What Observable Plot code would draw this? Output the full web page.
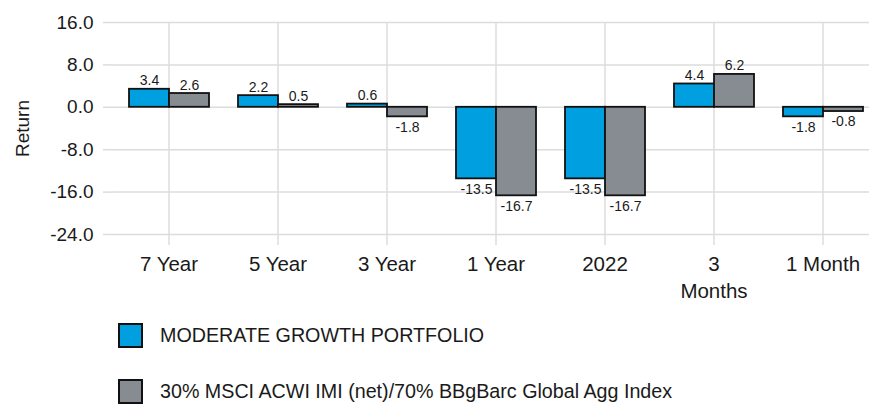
<!DOCTYPE html>
<html><head><meta charset="utf-8">
<script src="https://cdn.jsdelivr.net/npm/d3@7"></script>
<script src="https://cdn.jsdelivr.net/npm/@observablehq/plot@0.6"></script>
<style>
html,body{margin:0;background:#fff;overflow:hidden;font-family:"Liberation Sans",Arial,sans-serif;}
#legend{position:relative;height:96px;}
.item{position:absolute;left:118px;display:flex;align-items:center;font-size:19.7px;color:#1a1a1a;height:25px;}
.sw{width:21px;height:21px;border:2px solid #111;margin-right:17px;box-sizing:content-box;}
</style></head><body>
<div id="chart"></div>
<div id="legend"></div>
<script>
const categories = ["7 Year", "5 Year", "3 Year", "1 Year", "2022", "3 Months", "1 Month"];
const categoryLabels = ["7 Year", "5 Year", "3 Year", "1 Year", "2022", "3\nMonths", "1 Month"];
const portfolio = [3.4, 2.2, 0.6, -13.5, -13.5, 4.4, -1.8];
const benchmark = [2.6, 0.5, -1.8, -16.7, -16.7, 6.2, -0.8];
const seriesNames = ["MODERATE GROWTH PORTFOLIO", "30% MSCI ACWI IMI (net)/70% BBgBarc Global Agg Index"];
const seriesColors = ["#009fdf", "#878c93"];
const yTicks = [16, 8, 0, -8, -16, -24];

const rows = categories.flatMap((c, i) => [
  {cat: c, series: seriesNames[0], value: portfolio[i]},
  {cat: c, series: seriesNames[1], value: benchmark[i]}
]);
const labelOf = new Map(categories.map((c, i) => [c, categoryLabels[i]]));
const gridColor = "#dcdcdc";

const chart = Plot.plot({
  width: 869, height: 310,
  marginLeft: 111, marginRight: -10, marginTop: 22, marginBottom: 76,
  style: {fontFamily: "Liberation Sans, Arial, sans-serif", fontSize: "19px", color: "#1a1a1a", background: "#fff", overflow: "hidden"},
  fx: {domain: categories, padding: 0, label: null},
  x: {domain: seriesNames, paddingInner: 0, paddingOuter: 0.34, axis: null},
  y: {domain: [-24, 16]},
  color: {domain: seriesNames, range: seriesColors},
  marks: [
    Plot.gridY(yTicks, {stroke: gridColor, strokeOpacity: 1, strokeWidth: 1.5}),
    Plot.gridFx({stroke: gridColor, strokeOpacity: 1, strokeWidth: 1.5}),
    Plot.axisY(yTicks, {tickSize: 11, tickPadding: 10, stroke: gridColor, strokeOpacity: 1, strokeWidth: 1.5,
      tickFormat: d => d.toFixed(1), label: "Return", labelAnchor: "center", labelArrow: "none", labelOffset: 99, line: true}),
    Plot.axisFx({anchor: "bottom", tickSize: 11, tickPadding: 7, stroke: gridColor, strokeOpacity: 1, strokeWidth: 1.5,
      tickFormat: d => labelOf.get(d), label: null, fontSize: 20.5, lineHeight: 1.3}),
    Plot.rectY(rows, {fx: "cat", x: "series", y: "value", fill: "series", stroke: "#111", strokeWidth: 1.8}),
    Plot.text(rows.filter(d => d.value >= 0), {fx: "cat", x: "series", y: "value", text: d => d.value.toFixed(1),
      lineAnchor: "bottom", dy: -4, fontSize: 14, fill: "#1a1a1a"}),
    Plot.text(rows.filter(d => d.value < 0), {fx: "cat", x: "series", y: "value", text: d => d.value.toFixed(1),
      lineAnchor: "top", dy: 5, fontSize: 14, fill: "#1a1a1a"})
  ]
});
document.getElementById("chart").append(chart);

const legend = document.getElementById("legend");
seriesNames.forEach((name, i) => {
  const item = document.createElement("div");
  item.className = "item";
  item.style.top = (13 + i * 56) + "px";
  const sw = document.createElement("div");
  sw.className = "sw";
  sw.style.background = seriesColors[i];
  const label = document.createElement("span");
  label.textContent = name;
  item.append(sw, label);
  legend.append(item);
});
</script></body></html>
